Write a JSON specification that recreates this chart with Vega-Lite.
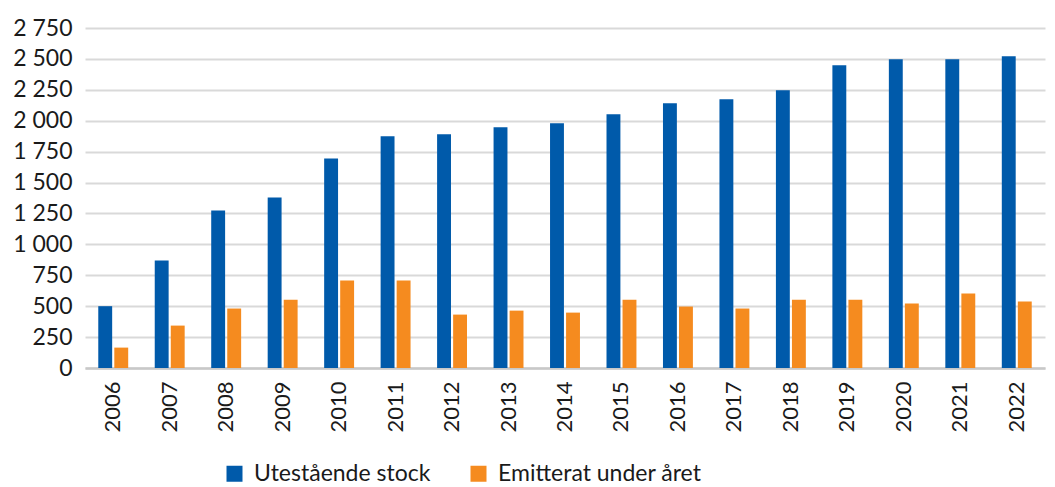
{
  "$schema": "https://vega.github.io/schema/vega-lite/v6.json",
  "autosize": {"type": "none"},
  "width": 960,
  "height": 340,
  "padding": {"left": 85, "top": 28, "right": 10, "bottom": 119},
  "background": "white",
  "data": {"values": [
    {"year": "2006", "series": "Utestående stock", "value": 500},
    {"year": "2006", "series": "Emitterat under året", "value": 165},
    {"year": "2007", "series": "Utestående stock", "value": 869},
    {"year": "2007", "series": "Emitterat under året", "value": 343},
    {"year": "2008", "series": "Utestående stock", "value": 1274},
    {"year": "2008", "series": "Emitterat under året", "value": 481},
    {"year": "2009", "series": "Utestående stock", "value": 1380},
    {"year": "2009", "series": "Emitterat under året", "value": 553},
    {"year": "2010", "series": "Utestående stock", "value": 1695},
    {"year": "2010", "series": "Emitterat under året", "value": 707},
    {"year": "2011", "series": "Utestående stock", "value": 1874},
    {"year": "2011", "series": "Emitterat under året", "value": 707},
    {"year": "2012", "series": "Utestående stock", "value": 1890},
    {"year": "2012", "series": "Emitterat under året", "value": 432},
    {"year": "2013", "series": "Utestående stock", "value": 1947},
    {"year": "2013", "series": "Emitterat under året", "value": 464},
    {"year": "2014", "series": "Utestående stock", "value": 1979},
    {"year": "2014", "series": "Emitterat under året", "value": 448},
    {"year": "2015", "series": "Utestående stock", "value": 2052},
    {"year": "2015", "series": "Emitterat under året", "value": 553},
    {"year": "2016", "series": "Utestående stock", "value": 2141},
    {"year": "2016", "series": "Emitterat under året", "value": 497},
    {"year": "2017", "series": "Utestående stock", "value": 2173},
    {"year": "2017", "series": "Emitterat under året", "value": 481},
    {"year": "2018", "series": "Utestående stock", "value": 2246},
    {"year": "2018", "series": "Emitterat under året", "value": 553},
    {"year": "2019", "series": "Utestående stock", "value": 2449},
    {"year": "2019", "series": "Emitterat under året", "value": 553},
    {"year": "2020", "series": "Utestående stock", "value": 2497},
    {"year": "2020", "series": "Emitterat under året", "value": 521},
    {"year": "2021", "series": "Utestående stock", "value": 2497},
    {"year": "2021", "series": "Emitterat under året", "value": 602},
    {"year": "2022", "series": "Utestående stock", "value": 2522},
    {"year": "2022", "series": "Emitterat under året", "value": 537}
  ]},
  "mark": {"type": "bar"},
  "encoding": {
    "x": {
      "field": "year", "type": "nominal", "sort": null,
      "scale": {"paddingInner": 0.47, "paddingOuter": 0.235},
      "axis": {
        "title": null, "labelAngle": -90, "labelAlign": "right", "labelBaseline": "middle",
        "labelFont": "Lato", "labelFontSize": 22, "labelColor": "#1a1a1a", "labelPadding": 13,
        "ticks": false, "domain": true, "domainColor": "#c8c8c8", "domainWidth": 2.5, "grid": false
      }
    },
    "xOffset": {
      "field": "series", "type": "nominal",
      "sort": ["Utestående stock", "Emitterat under året"],
      "scale": {"paddingInner": 0.133, "paddingOuter": 0}
    },
    "y": {
      "field": "value", "type": "quantitative",
      "scale": {"domain": [0, 2750], "nice": false},
      "axis": {
        "title": null, "values": [0, 250, 500, 750, 1000, 1250, 1500, 1750, 2000, 2250, 2500, 2750],
        "labelExpr": "replace(format(datum.value, ','), ',', ' ')",
        "labelFont": "Lato", "labelFontSize": 23, "labelColor": "#1a1a1a", "labelPadding": 13,
        "ticks": false, "domain": false, "grid": true, "gridColor": "#d9d9d9", "gridWidth": 2
      }
    },
    "color": {
      "field": "series", "type": "nominal",
      "sort": ["Utestående stock", "Emitterat under året"],
      "scale": {"domain": ["Utestående stock", "Emitterat under året"], "range": ["#005AAA", "#F58B1F"]},
      "legend": {
        "title": null, "orient": "none", "direction": "horizontal",
        "legendX": 138, "legendY": 434,
        "symbolType": "square", "symbolSize": 256, "symbolStrokeWidth": 0,
        "labelFont": "Lato", "labelFontSize": 23, "labelColor": "#1a1a1a", "labelLimit": 0,
        "columnPadding": 36, "labelOffset": 8
      }
    }
  },
  "config": {"view": {"stroke": null}}
}
